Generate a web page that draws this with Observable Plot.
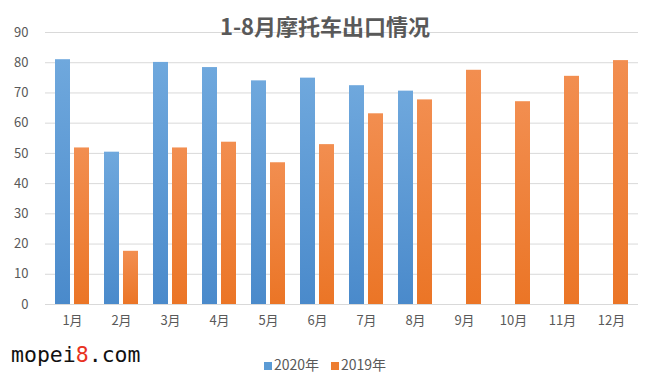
<!DOCTYPE html>
<html><head><meta charset="utf-8">
<script src="https://cdn.jsdelivr.net/npm/d3@7"></script>
<script src="https://cdn.jsdelivr.net/npm/@observablehq/plot@0.6"></script>
<style>
body{margin:0;background:#fff;}
#wrap{position:relative;width:650px;height:379px;font-family:"Noto Sans CJK SC","Noto Sans",sans-serif;overflow:hidden;}
#title{position:absolute;left:0;width:650px;top:10px;text-align:center;font-size:22px;font-weight:bold;color:#595959;line-height:30px;}
#legend{position:absolute;left:0;width:650px;top:354px;text-align:center;font-size:14px;color:#595959;line-height:20px;}
#legend span.sw{display:inline-block;width:8px;height:8px;margin-right:2px;vertical-align:0px;}
#legend span.item{margin:0 6px;}
#mark{position:absolute;left:11px;top:341px;font-family:"DejaVu Sans Mono",monospace;font-size:21.5px;color:#111;line-height:28px;}
#mark b{color:#e8321f;font-weight:normal;}
</style></head><body>
<div id="wrap"></div>
<script>
const months = ["1月","2月","3月","4月","5月","6月","7月","8月","9月","10月","11月","12月"];
const seriesNames = ["2020年","2019年"];
const v2020 = [81.0, 50.4, 80.1, 78.4, 74.0, 74.9, 72.4, 70.6, null, null, null, null];
const v2019 = [51.8, 17.6, 51.8, 53.7, 46.9, 52.9, 63.1, 67.7, 77.5, 67.1, 75.5, 80.7];
const yTicks = [0,10,20,30,40,50,60,70,80,90];
const colors = ["#5b9bd5","#ed7d31"];

const d2020 = months.map((m,i)=>({month:m, series:seriesNames[0], value:v2020[i]})).filter(d=>d.value!=null);
const d2019 = months.map((m,i)=>({month:m, series:seriesNames[1], value:v2019[i]}));

const plot = Plot.plot({
  width:650, height:379,
  marginLeft:45, marginRight:12, marginTop:32, marginBottom:75,
  style:{fontFamily:'"Noto Sans CJK SC","Noto Sans",sans-serif', fontSize:"13px", color:"#595959", background:"transparent"},
  x:{domain:months, paddingInner:0.31, paddingOuter:0.155, label:null},
  y:{domain:[0,90], label:null},
  marks:[
    Plot.gridY(yTicks,{stroke:"#d9d9d9", strokeOpacity:1}),
    Plot.axisY(yTicks,{tickSize:0, tickPadding:17, label:null, fill:"#595959"}),
    Plot.axisX({tickSize:0, tickPadding:11, label:null, fill:"#595959"}),
    Plot.barY(d2020,{x:"month", y:"value", insetRight:19, fill:"url(#gb)"}),
    Plot.barY(d2019,{x:"month", y:"value", insetLeft:19, fill:"url(#go)"}),
    Plot.ruleY([0],{stroke:"#d9d9d9"})
  ]
});
const defs = document.createElementNS("http://www.w3.org/2000/svg","defs");
defs.innerHTML = `<linearGradient id="gb" x1="0" y1="0" x2="0" y2="1"><stop offset="0" stop-color="#6fa8dd"/><stop offset="1" stop-color="#4a8acb"/></linearGradient>
<linearGradient id="go" x1="0" y1="0" x2="0" y2="1"><stop offset="0" stop-color="#f28e50"/><stop offset="1" stop-color="#eb7526"/></linearGradient>`;
plot.insertBefore(defs, plot.firstChild);

const wrap = document.getElementById("wrap");
wrap.appendChild(plot);
const title = document.createElement("div");
title.id = "title"; title.textContent = "1-8月摩托车出口情况";
wrap.appendChild(title);
const legend = document.createElement("div");
legend.id = "legend";
legend.innerHTML = seriesNames.map((s,i)=>`<span class="item"><span class="sw" style="background:${colors[i]}"></span>${s}</span>`).join("");
wrap.appendChild(legend);
const mark = document.createElement("div");
mark.id = "mark"; mark.innerHTML = "mopei<b>8</b>.com";
wrap.appendChild(mark);
</script>
</body></html>
